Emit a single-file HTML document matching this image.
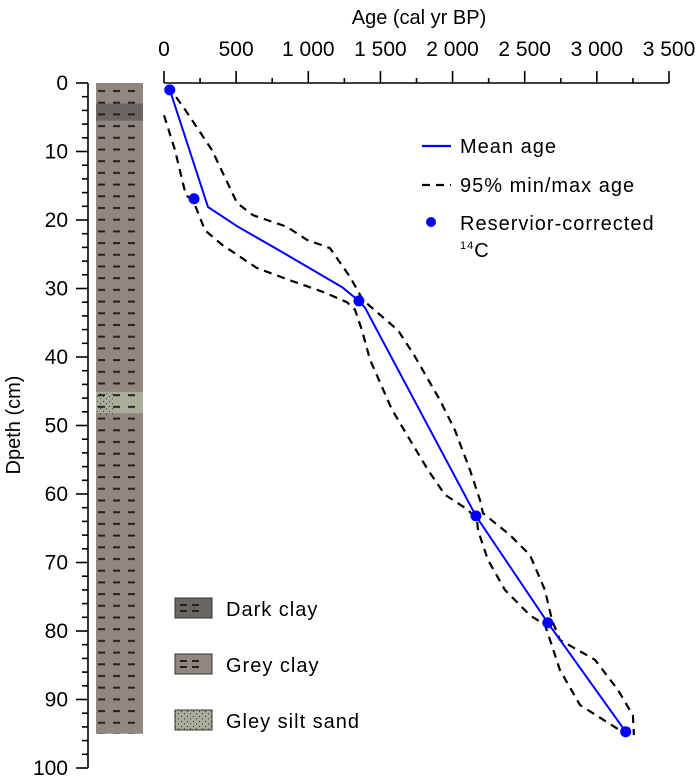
<!DOCTYPE html>
<html><head><meta charset="utf-8">
<style>
html,body{margin:0;padding:0;background:#fff;}
svg{display:block;font-family:"Liberation Sans",Arial,sans-serif;}
</style></head>
<body>
<svg id="chart" width="700" height="777" viewBox="0 0 700 777" xmlns="http://www.w3.org/2000/svg">
<defs>
<pattern id="dashpat" patternUnits="userSpaceOnUse" x="96" y="86" width="47" height="11.7">
<rect x="2" y="4" width="7" height="2" fill="#222"/>
<rect x="17" y="4" width="7" height="2" fill="#222"/>
<rect x="32" y="4" width="7" height="2" fill="#222"/>
</pattern>
<pattern id="dots" patternUnits="userSpaceOnUse" width="6" height="5">
<circle cx="1.5" cy="1.5" r="0.6" fill="#333"/><circle cx="4.5" cy="3.8" r="0.6" fill="#333"/>
</pattern>
</defs>
<g id="column"></g>
<g id="axes"></g>
<g id="series"></g>
<text x="419" y="24" font-size="20" text-anchor="middle">Age (cal yr BP)</text>
<text transform="translate(20,425) rotate(-90)" font-size="20" text-anchor="middle">Dpeth (cm)</text>
<g letter-spacing="1">
<line x1="422" y1="146" x2="451" y2="146" stroke="#0000ff" stroke-width="2.2"/>
<text x="460" y="153" font-size="20">Mean age</text>
<line x1="422" y1="185" x2="451" y2="185" stroke="#000" stroke-width="2.2" stroke-dasharray="8,6"/>
<text x="460" y="192" font-size="20">95% min/max age</text>
<circle cx="431" cy="222" r="5" fill="#0000ff"/>
<text x="460" y="230" font-size="20">Reservior-corrected</text>
<text x="460" y="257" font-size="20"><tspan font-size="11" dy="-8">14</tspan><tspan dy="8">C</tspan></text>
</g>
<g letter-spacing="1">
<rect x="175" y="598" width="37" height="20" fill="#6a6662" stroke="#333"/>
<text x="226" y="616" font-size="20">Dark clay</text>
<rect x="175" y="654" width="37" height="20" fill="#908880" stroke="#333"/>
<text x="226" y="672" font-size="20">Grey clay</text>
<rect x="175" y="710" width="37" height="20" fill="#a9ad9a" stroke="#333"/>
<rect x="175" y="710" width="37" height="20" fill="url(#dots)"/>
<text x="226" y="728" font-size="20">Gley silt sand</text>
<g fill="#222">
<rect x="180" y="604" width="7" height="2"/><rect x="192" y="604" width="7" height="2"/><rect x="180" y="610" width="7" height="2"/><rect x="192" y="610" width="7" height="2"/>
<rect x="180" y="660" width="7" height="2"/><rect x="192" y="660" width="7" height="2"/><rect x="180" y="666" width="7" height="2"/><rect x="192" y="666" width="7" height="2"/>
</g>
</g>
</svg>
<script>
const xTicks=[0,500,1000,1500,2000,2500,3000,3500];
const xTickLabels=["0","500","1 000","1 500","2 000","2 500","3 000","3 500"];
const yTicks=[0,10,20,30,40,50,60,70,80,90,100];
const meanAge=[28,40,305,513,755,1234,1351,1393,2162,2660,3200];
const meanDepth=[0.3,1,18.1,21,23.9,29.8,31.8,32.8,63.2,78.8,94.7];
const maxAge=[28,146,333,506,617,852,991,1150,1289,1379,1622,1733,1913,2017,2121,2190,2211,2398,2536,2640,2689,2744,2987,3146,3250,3257];
const maxDepth=[0.4,3.9,9.8,17.5,19.3,21.0,22.9,24.1,28.3,31.7,36.1,39.7,46.3,50.7,56.5,60.9,62.8,66.0,68.9,74.0,78.4,81.3,84.2,88.6,92.3,95.2];
const minAge=[0,76,152,201,284,402,644,873,1102,1268,1324,1372,1428,1580,1705,1830,1947,2107,2169,2176,2245,2363,2536,2640,2675,2744,2883,3160,3216];
const minDepth=[4.7,9.8,16.4,17.1,21.5,23.6,27.0,28.8,30.5,32.0,33.1,36.1,40.4,47.7,52.1,56.5,60.1,62.3,63.8,65.3,69.6,74.0,77.7,79.1,81.3,85.7,90.8,94.5,95.2];
const pointAge=[40,208,1351,2162,2660,3200];
const pointDepth=[1,16.9,31.8,63.2,78.8,94.7];
const layerNames=["grey-clay","dark-clay","gley-silt-sand"];
const layerTop=[0,3,45.1];
const layerBottom=[95,5.5,48.2];
const layerColors=["#908880","#6a6662","#a9ad9a"];

const X0=164,X1=669,Y0=83,Y1=768;
const x=a=>X0+(a/3500)*(X1-X0);
const y=d=>Y0+(d/100)*(Y1-Y0);
const NS="http://www.w3.org/2000/svg";
function mk(tag,attrs,parent){const e=document.createElementNS(NS,tag);for(const k in attrs)e.setAttribute(k,attrs[k]);parent.appendChild(e);return e;}

const col=document.getElementById('column');
layerNames.forEach((n,i)=>{
  const r=mk('rect',{x:96,y:y(layerTop[i]),width:47,height:y(layerBottom[i])-y(layerTop[i]),fill:layerColors[i]},col);
  
  
});
const pat=mk('rect',{x:96,y:y(0),width:47,height:y(95)-y(0),fill:'url(#dashpat)'},col);


const sd=mk('rect',{x:97,y:y(45.1),width:16,height:y(48.5)-y(45.1),fill:'url(#dots)'},col);



const ax=document.getElementById('axes');
const xl=mk('line',{x1:X0,y1:Y0,x2:X1,y2:Y0,stroke:'#000','stroke-width':1.6},ax);


for(let a=0;a<=3500;a+=250){
  const major=a%500===0;
  mk('line',{x1:x(a),y1:Y0,x2:x(a),y2:Y0-(major?12:5),stroke:'#000','stroke-width':1.6},ax);
}
xTicks.forEach((t,i)=>{
  const tx=mk('text',{x:x(t),y:56,'font-size':21,'text-anchor':'middle'},ax);
  
  
  tx.textContent=xTickLabels[i];
});
const yl=mk('line',{x1:88,y1:Y0,x2:88,y2:Y1,stroke:'#000','stroke-width':1.6},ax);


for(let d=0;d<=100;d+=2){
  const major=d%10===0;
  mk('line',{x1:major?76:82,y1:y(d),x2:88,y2:y(d),stroke:'#000','stroke-width':1.6},ax);
}
yTicks.forEach(t=>{
  const tx=mk('text',{x:68,y:y(t)+7,'font-size':21,'text-anchor':'end'},ax);
  
  
  tx.textContent=String(t);
});

const se=document.getElementById('series');
function pts(A,D){return A.map((a,i)=>x(a).toFixed(1)+','+y(D[i]).toFixed(1)).join(' ');}
const mx=mk('polyline',{points:pts(maxAge,maxDepth),fill:'none',stroke:'#000','stroke-width':2.2,'stroke-dasharray':'8,6'},se);


const mn=mk('polyline',{points:pts(minAge,minDepth),fill:'none',stroke:'#000','stroke-width':2.2,'stroke-dasharray':'8,6'},se);


const me=mk('polyline',{points:pts(meanAge,meanDepth),fill:'none',stroke:'#0000ff','stroke-width':2},se);


pointAge.forEach((a,i)=>{
  const c=mk('circle',{cx:x(a),cy:y(pointDepth[i]),r:5.5,fill:'#0000ff'},se);
  
  
});
</script>
</body></html>
